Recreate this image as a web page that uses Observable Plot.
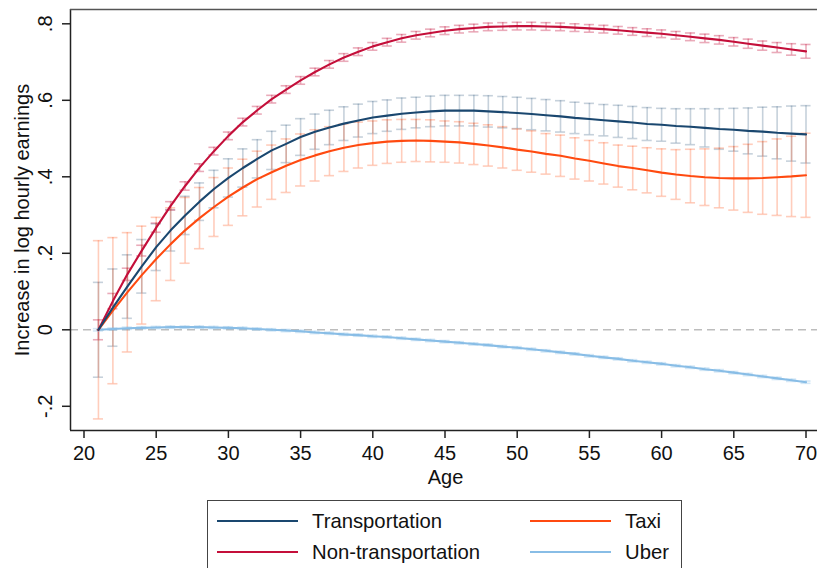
<!DOCTYPE html>
<html><head><meta charset="utf-8">
<script src="https://cdn.jsdelivr.net/npm/d3@7"></script>
<script src="https://cdn.jsdelivr.net/npm/@observablehq/plot@0.6"></script>
<style>
html,body{margin:0;padding:0;background:#fff;overflow:hidden;}
body{width:817px;height:568px;position:relative;font-family:"Liberation Sans",Arial,Helvetica,sans-serif;}
#chart{position:absolute;left:0;top:0;}
#legend{position:absolute;left:207px;top:500px;width:475px;height:90px;border:1px solid #444;box-sizing:border-box;background:#fff;}
.item{position:absolute;height:24px;line-height:24px;display:flex;align-items:center;font-size:20.3px;color:#111;white-space:nowrap;}
.swatch{width:81px;height:2px;margin-right:14px;}
</style></head><body>
<div id="chart"></div>
<div id="legend"></div>
<script>
// ---- data ----
const ages = [21,22,23,24,25,26,27,28,29,30,31,32,33,34,35,36,37,38,39,40,41,42,43,44,45,46,47,48,49,50,51,52,53,54,55,56,57,58,59,60,61,62,63,64,65,66,67,68,69,70];

const transport = [0,.058,.113,.166,.216,.26,.299,.335,.368,.397,
  .423,.447,.469,.486,.504,.518,.529,.539,.547,.555,
  .560,.565,.568,.571,.573,.573,.573,.571,.569,.567,
  .564,.561,.558,.554,.551,.548,.545,.542,.538,.536,
  .533,.531,.528,.525,.523,.520,.518,.515,.513,.511];
const transportCI = [.124,.101,.083,.070,.061,.054,.050,.049,.049,.050,
  .050,.050,.050,.049,.048,.046,.045,.044,.043,.042,
  .041,.041,.040,.040,.040,.040,.040,.041,.041,.041,
  .041,.041,.041,.041,.041,.041,.042,.042,.043,.043,
  .045,.047,.050,.053,.056,.060,.064,.068,.072,.075];

const nonTransport = [0,.075,.145,.207,.267,.324,.376,.424,.467,.507,
  .543,.574,.603,.628,.652,.674,.694,.712,.727,.741,
  .752,.762,.770,.776,.782,.786,.789,.792,.793,.794,
  .794,.793,.792,.790,.788,.786,.783,.780,.777,.774,
  .770,.766,.762,.758,.753,.748,.743,.738,.733,.728];
const nonTransportCI = [.026,.020,.016,.014,.012,.011,.011,.010,.010,.010,
  .010,.010,.010,.010,.010,.010,.010,.010,.010,.010,
  .010,.010,.010,.010,.010,.010,.010,.010,.010,.010,
  .010,.010,.010,.010,.010,.010,.010,.010,.010,.010,
  .010,.010,.011,.011,.011,.012,.012,.013,.015,.018];

const taxi = [0,.050,.098,.143,.185,.224,.260,.292,.321,.348,
  .372,.394,.412,.429,.444,.456,.467,.476,.483,.488,
  .492,.494,.495,.494,.492,.490,.486,.482,.477,.471,
  .466,.460,.455,.448,.442,.435,.428,.423,.417,.411,
  .406,.402,.399,.397,.396,.396,.397,.399,.401,.404];
const taxiCI = [.233,.191,.156,.128,.109,.095,.086,.080,.077,.075,
  .074,.073,.071,.070,.068,.067,.064,.062,.060,.058,
  .057,.056,.055,.055,.054,.054,.054,.054,.054,.054,
  .054,.053,.054,.054,.053,.054,.055,.057,.059,.062,
  .065,.070,.074,.078,.083,.089,.095,.100,.105,.110];

const uber = [0,.002,.004,.005,.006,.007,.007,.007,.006,.005,
  .004,.002,.000,-.002,-.004,-.007,-.009,-.012,-.014,-.017,
  -.019,-.022,-.025,-.028,-.031,-.034,-.037,-.040,-.044,-.047,
  -.051,-.055,-.059,-.063,-.068,-.072,-.076,-.081,-.085,-.089,
  -.094,-.098,-.103,-.107,-.112,-.117,-.122,-.127,-.132,-.137];
const uberCI = [.003,.003,.003,.003,.003,.003,.003,.003,.003,.003,
  .003,.003,.003,.003,.003,.003,.003,.003,.003,.003,
  .003,.003,.003,.003,.003,.003,.003,.003,.003,.003,
  .003,.003,.003,.003,.003,.003,.003,.003,.003,.003,
  .003,.003,.003,.003,.003,.003,.003,.003,.003,.003];

const seriesNames = ["Transportation","Non-transportation","Taxi","Uber"];
const seriesColors = ["#1a476f","#c40f3a","#ff4a10","#88bde6"];
const ciOpacity = [0.25,0.35,0.28,0.35];

const xTicks = [20,25,30,35,40,45,50,55,60,65,70];
const yTicks = [-0.2,0,0.2,0.4,0.6,0.8];
const yTickLabels = ["-.2","0",".2",".4",".6",".8"];

// ---- build tables ----
const values = [transport, nonTransport, taxi, uber];
const cis = [transportCI, nonTransportCI, taxiCI, uberCI];
const series = seriesNames.map((name, s) => ({
  name, color: seriesColors[s], op: ciOpacity[s],
  rows: ages.map((age, i) => ({age, value: values[s][i], lo: values[s][i] - cis[s][i], hi: values[s][i] + cis[s][i]}))
}));

const xDomain = [19.065, 70.796];
const yDomain = [-0.2633, 0.8374];
const cap = 0.35;
const ink = "#222";

const marks = [
  Plot.ruleY([0], {stroke: "#bdbdbd", strokeWidth: 1.5, strokeDasharray: "8,5"})
];
for (const s of series) {
  const st = {stroke: s.color, strokeOpacity: s.op, strokeWidth: 1.6};
  marks.push(
    Plot.ruleX(s.rows, {x: "age", y1: "lo", y2: "hi", ...st}),
    Plot.ruleY(s.rows, {y: "lo", x1: d => d.age - cap, x2: d => d.age + cap, ...st}),
    Plot.ruleY(s.rows, {y: "hi", x1: d => d.age - cap, x2: d => d.age + cap, ...st})
  );
}
for (const s of [...series].reverse()) {
  marks.push(Plot.line(s.rows, {x: "age", y: "value", stroke: s.color, strokeWidth: 2.1}));
}
marks.push(
  Plot.ruleX([xDomain[0]], {stroke: ink, strokeWidth: 1.5}),
  Plot.ruleY([yDomain[0]], {stroke: ink, strokeWidth: 1.5}),
  Plot.ruleY([yDomain[1]], {stroke: "#555", strokeWidth: 1.5}),
  Plot.axisX({ticks: xTicks, tickSize: 8, tickPadding: 7, fontSize: 20, label: null, stroke: ink, strokeWidth: 1.5, fill: "#111"}),
  Plot.axisY({ticks: yTicks, tickSize: 8, tickFormat: () => "", label: null, stroke: ink, strokeWidth: 1.5}),
  Plot.text(yTicks, {y: d => d, frameAnchor: "left", dx: -25, rotate: -90, text: (d, i) => yTickLabels[i], fontSize: 20, fill: "#111", textAnchor: "middle", lineAnchor: "middle"}),
  Plot.text(["Age"], {frameAnchor: "bottom", dx: 1.5, dy: 47, fontSize: 20, fill: "#111", lineAnchor: "middle"}),
  Plot.text(["Increase in log hourly earnings"], {frameAnchor: "left", dx: -48, rotate: -90, fontSize: 20, fill: "#111", textAnchor: "middle", lineAnchor: "middle"})
);

const chart = Plot.plot({
  width: 817, height: 495,
  marginLeft: 70, marginRight: 0, marginTop: 9, marginBottom: 65,
  x: {domain: xDomain},
  y: {domain: yDomain},
  style: {fontFamily: '"Liberation Sans", Arial, Helvetica, sans-serif', fontSize: "20px", background: "white", color: "#111"},
  marks
});
document.getElementById("chart").appendChild(chart);

// ---- legend ----
const legend = document.getElementById("legend");
const legendPos = [[9, 8], [9, 39], [322, 8], [322, 39]]; // Transportation, Non-transportation, Taxi, Uber
series.forEach((s, i) => {
  const d = document.createElement("div");
  d.className = "item";
  d.style.left = legendPos[i][0] + "px";
  d.style.top = legendPos[i][1] + "px";
  const sw = document.createElement("span");
  sw.className = "swatch";
  sw.style.background = s.color;
  const t = document.createElement("span");
  t.textContent = s.name;
  d.appendChild(sw); d.appendChild(t);
  legend.appendChild(d);
});
</script>
</body></html>
